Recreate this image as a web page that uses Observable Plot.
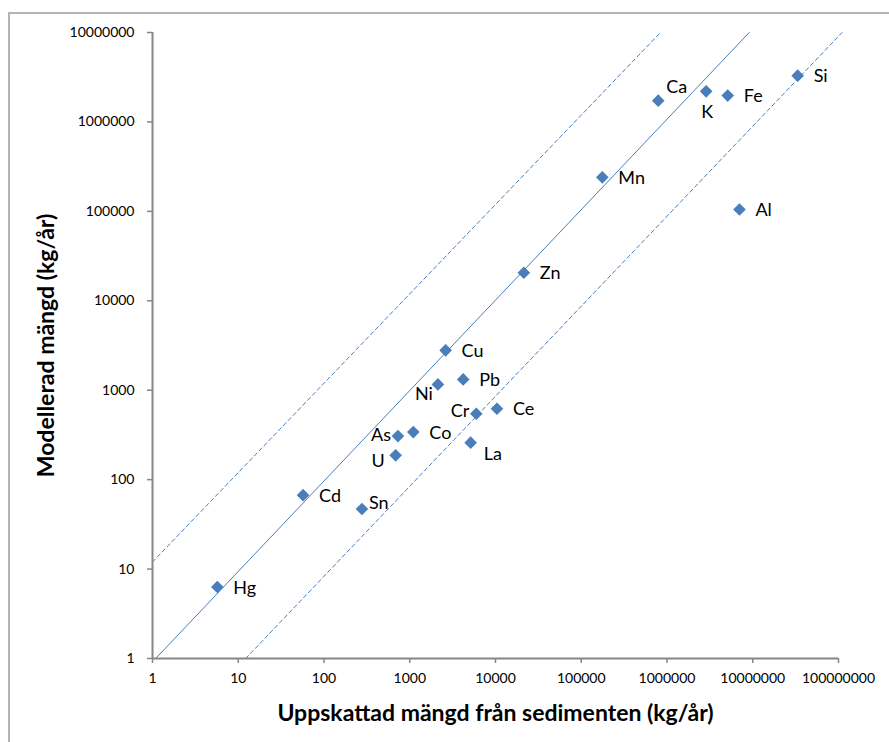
<!DOCTYPE html>
<html>
<head>
<meta charset="utf-8">
<script src="https://cdn.jsdelivr.net/npm/d3@7"></script>
<script src="https://cdn.jsdelivr.net/npm/@observablehq/plot@0.6"></script>
<style>
  html, body { margin: 0; padding: 0; background: #fff; overflow: hidden; }
  #wrap { position: relative; width: 889px; height: 742px; }
  #border { position: absolute; left: 8px; top: 12px; width: 1000px; height: 1000px;
            border-left: 2px solid #b4b4b4; border-top: 2px solid #b4b4b4; pointer-events: none; }
  #chart { position: absolute; left: 0; top: 0; }
</style>
</head>
<body>
<div id="wrap"><div id="border"></div><div id="chart"></div></div>
<script>
// Element names
const elements = ["Hg","Cd","Sn","U","As","Co","Ni","Cu","Pb","Cr","Ce","La","Zn","Mn","Ca","K","Fe","Al","Si"];
// Estimated from sediments (kg/år) - x values
const sedimentValues = [5.7, 57, 277, 685, 728, 1100, 2130, 2620, 4200, 5970, 10400, 5130, 21400, 176000, 790000, 2860000, 5110000, 7000000, 33400000];
// Modelled amount (kg/år) - y values
const modelValues = [6.3, 67, 47, 187, 307, 340, 1160, 2790, 1320, 546, 621, 259, 20600, 240000, 1730000, 2200000, 1970000, 105000, 3290000];

// Reference lines (1:1 line and factor-of-ten band)
const lineSolidX = [1.09, 9.1e6];
const lineSolidY = [1, 1e7];
const lineUpperX = [1, 8.4e5];
const lineUpperY = [12, 1e7];
const lineLowerX = [12.2, 1.1e8];
const lineLowerY = [1, 1e7];

// Tick values
const xTicks = [1, 10, 100, 1000, 10000, 100000, 1000000, 10000000, 100000000];
const yTicks = [1, 10, 100, 1000, 10000, 100000, 1000000, 10000000];

const xTitle = "Uppskattad mängd från sedimenten (kg/år)";
const yTitle = "Modellerad mängd (kg/år)";

const data = elements.map((e, i) => ({name: e, x: sedimentValues[i], y: modelValues[i]}));
const toPts = (xs, ys) => xs.map((x, i) => ({x, y: ys[i]}));

// label placement styles (offsets in px)
const labelStyle = {
  Ca: {dx: 8, dy: -13, anchor: "start"},
  K:  {dx: 1, dy: 21, anchor: "middle"},
  Ni: {dx: -5, dy: 10, anchor: "end"},
  Cr: {dx: -7, dy: -2, anchor: "end"},
  As: {dx: -7, dy: -1, anchor: "end"},
  La: {dx: 13, dy: 12, anchor: "start"},
  U:  {dx: -11, dy: 6, anchor: "end"},
  Sn: {dx: 7, dy: -6, anchor: "start"}
};
const defaultLabel = {dx: 16, dy: 1, anchor: "start"};

const FONT = "Lato, 'Open Sans', sans-serif";
const blue = "#4A7EBB";
const axisGray = "#868686";

const labelMarks = data.map(d => {
  const s = labelStyle[d.name] || defaultLabel;
  return Plot.text([d], {x: "x", y: "y", text: "name", dx: s.dx, dy: s.dy, textAnchor: s.anchor,
    fontSize: 18, fill: "#000", fontFamily: FONT});
});

const chart = Plot.plot({
  width: 889,
  height: 742,
  marginLeft: 152,
  marginRight: 51,
  marginTop: 32,
  marginBottom: 84,
  style: {fontFamily: FONT, background: "transparent", overflow: "visible"},
  x: {type: "log", domain: [1, 1e8]},
  y: {type: "log", domain: [1, 1e7]},
  marks: [
    Plot.line(toPts(lineUpperX, lineUpperY), {x: "x", y: "y", stroke: blue, strokeWidth: 1, strokeDasharray: "4,3"}),
    Plot.line(toPts(lineLowerX, lineLowerY), {x: "x", y: "y", stroke: blue, strokeWidth: 1, strokeDasharray: "4,3"}),
    Plot.line(toPts(lineSolidX, lineSolidY), {x: "x", y: "y", stroke: blue, strokeWidth: 1}),
    Plot.axisX({ticks: xTicks, tickFormat: d => String(d), tickSize: 5, tickPadding: 10,
      stroke: axisGray, strokeWidth: 1.5, fontSize: 14, label: null}),
    Plot.axisY({ticks: yTicks, tickFormat: d => String(d), tickSize: 5, tickPadding: 13,
      stroke: axisGray, strokeWidth: 1.5, fontSize: 14, label: null}),
    Plot.ruleY([1], {stroke: axisGray, strokeWidth: 2}),
    Plot.ruleX([1], {stroke: axisGray, strokeWidth: 2}),
    Plot.dot(data, {x: "x", y: "y", symbol: "diamond2", r: 5.7, fill: blue, stroke: "none"}),
    ...labelMarks,
    Plot.text([xTitle], {frameAnchor: "bottom", textAnchor: "middle", lineAnchor: "middle", dy: 55,
      fontSize: 23, fontWeight: "bold", fill: "#000", fontFamily: FONT}),
    Plot.text([yTitle], {frameAnchor: "left", textAnchor: "middle", lineAnchor: "middle", dx: -106, rotate: -90,
      fontSize: 23, fontWeight: "bold", fill: "#000", fontFamily: FONT})
  ]
});
document.getElementById("chart").appendChild(chart);
</script>
</body>
</html>
